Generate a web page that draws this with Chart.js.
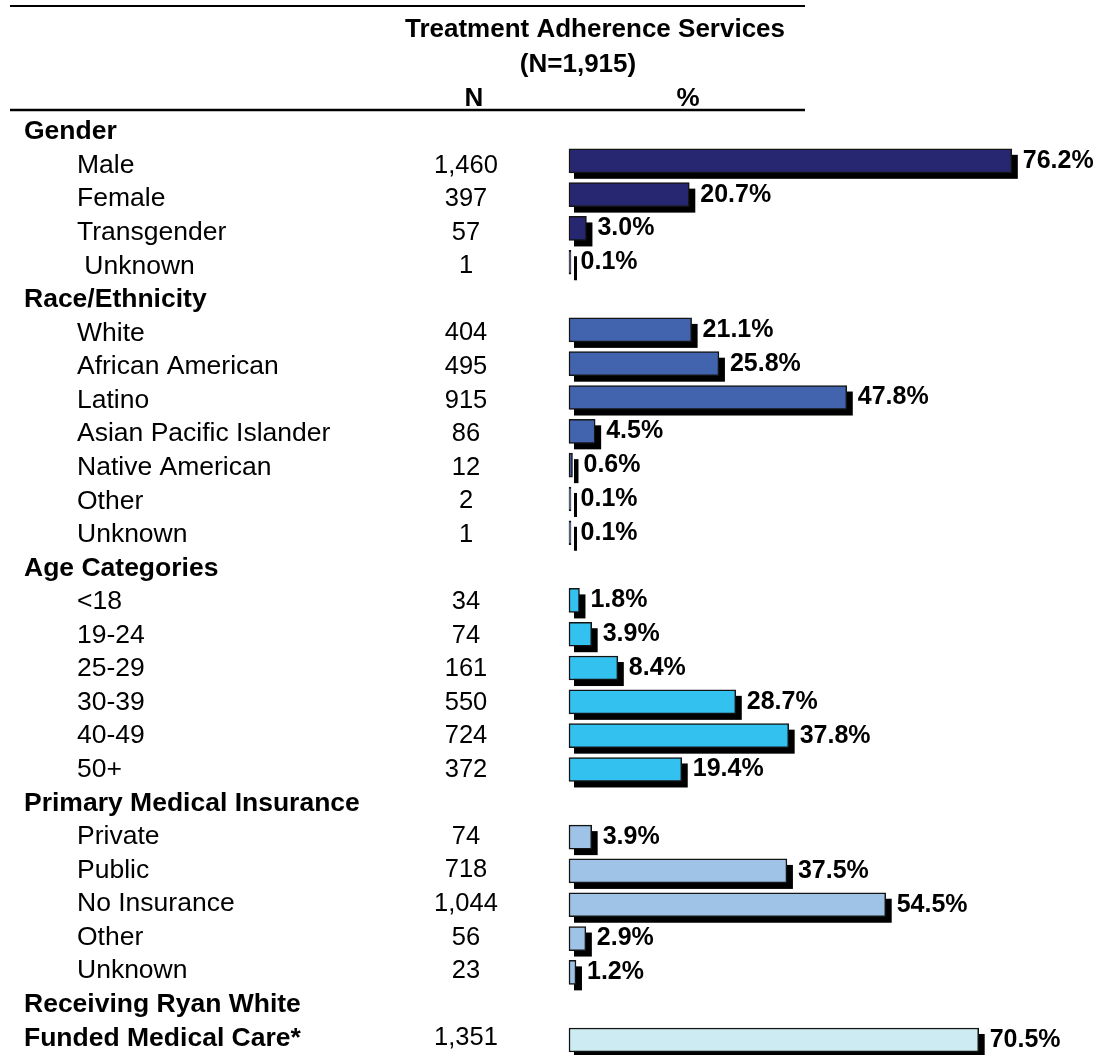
<!DOCTYPE html>
<html>
<head>
<meta charset="utf-8">
<script src="https://cdn.jsdelivr.net/npm/chart.js@4"></script>
<style>
  html, body { margin: 0; padding: 0; background: #fff; }
  #wrap { width: 1097px; height: 1055px; position: relative; }
</style>
</head>
<body>
<div id="wrap"><canvas id="chart"></canvas></div>
<script>
// rows of the table, top to bottom (group headings have no value)
var rowLabels = ['Gender', 'Male', 'Female', 'Transgender', ' Unknown',
    'Race/Ethnicity', 'White', 'African American', 'Latino', 'Asian Pacific Islander', 'Native American', 'Other', 'Unknown',
    'Age Categories', '<18', '19-24', '25-29', '30-39', '40-49', '50+',
    'Primary Medical Insurance', 'Private', 'Public', 'No Insurance', 'Other', 'Unknown',
    'Receiving Ryan White', 'Funded Medical Care*'];
var rowIsHeading = [true, false, false, false, false,
    true, false, false, false, false, false, false, false,
    true, false, false, false, false, false, false,
    true, false, false, false, false, false,
    true, true];
var rowGroup = [0, 0, 0, 0, 0,
    1, 1, 1, 1, 1, 1, 1, 1,
    2, 2, 2, 2, 2, 2, 2,
    3, 3, 3, 3, 3, 3,
    4, 4];
var counts = [null, '1,460', '397', '57', '1',
    null, '404', '495', '915', '86', '12', '2', '1',
    null, '34', '74', '161', '550', '724', '372',
    null, '74', '718', '1,044', '56', '23',
    null, '1,351'];
var percents = [null, 76.2, 20.7, 3.0, 0.1,
    null, 21.1, 25.8, 47.8, 4.5, 0.6, 0.1, 0.1,
    null, 1.8, 3.9, 8.4, 28.7, 37.8, 19.4,
    null, 3.9, 37.5, 54.5, 2.9, 1.2,
    null, 70.5];

var title = 'Treatment Adherence Services';
var subtitle = '(N=1,915)';

var groupColors = ['#262770', '#4264AE', '#33C1EF', '#9EC3E7', '#CDEBF2'];
var FONT = "'Liberation Sans', Arial, sans-serif";

// black drop shadow behind every bar (bar element clips its own canvas shadow)...
var shadowPlugin = {
    id: 'shadow',
    beforeDatasetsDraw: function (chart) {
        var ctx = chart.ctx;
        var meta = chart.getDatasetMeta(0);
        ctx.save();
        ctx.fillStyle = '#000';
        meta.data.forEach(function (bar, i) {
            if (percents[i] === null) {
                return;
            }
            var p = bar.getProps(['x', 'y', 'base', 'height'], true);
            ctx.fillRect(p.base + 5, p.y - p.height / 2 + 6, p.x - p.base + 1, p.height);
        });
        ctx.restore();
    }
};

// table text: headings, row labels, N column, % labels
var tablePlugin = {
    id: 'table',
    afterDraw: function (chart) {
        var ctx = chart.ctx;
        var y = chart.scales.y;
        var x = chart.scales.x;
        var meta = chart.getDatasetMeta(0);

        ctx.save();
        ctx.fillStyle = '#000';
        ctx.strokeStyle = '#000';

        // rules
        ctx.lineWidth = 2;
        ctx.beginPath();
        ctx.moveTo(10, 6);
        ctx.lineTo(805, 6);
        ctx.stroke();
        ctx.lineWidth = 2.5;
        ctx.beginPath();
        ctx.moveTo(10, 110);
        ctx.lineTo(805, 110);
        ctx.stroke();

        ctx.textBaseline = 'middle';
        ctx.textAlign = 'center';
        ctx.font = 'bold 26px ' + FONT;
        ctx.fillText(title, 595, 30);
        ctx.fillText(subtitle, 578, 65);
        ctx.fillText('N', 474, 99);
        ctx.fillText('%', 688, 99);

        for (var i = 0; i < rowLabels.length; i++) {
            var py = y.getPixelForValue(i) + 5 - 0.25 * i;

            ctx.textAlign = 'left';
            if (rowIsHeading[i]) {
                ctx.font = 'bold 26.5px ' + FONT;
                ctx.fillText(rowLabels[i], 24, py);
            } else {
                ctx.font = '26.5px ' + FONT;
                ctx.fillText(rowLabels[i], 77, py);
            }

            if (counts[i] !== null) {
                ctx.font = '25.5px ' + FONT;
                ctx.textAlign = 'center';
                ctx.fillText(counts[i], 466, py);
            }

            if (percents[i] !== null) {
                var bar = meta.data[i];
                ctx.font = 'bold 25px ' + FONT;
                ctx.textAlign = 'left';
                ctx.fillText(percents[i].toFixed(1) + '%', x.getPixelForValue(percents[i]) + 11, bar.y);
            }
        }

        ctx.restore();
    }
};

var chart = new Chart(document.getElementById('chart').getContext('2d'), {
    type: 'bar',
    data: {
        labels: rowLabels,
        datasets: [{
            data: percents,
            backgroundColor: rowGroup.map(function (g) { return groupColors[g]; }),
            borderColor: '#141414',
            borderWidth: 1.5,
            borderSkipped: false,
            barThickness: 24,
            minBarLength: 2,
            clip: false
        }]
    },
    options: {
        indexAxis: 'y',
        responsive: true,
        maintainAspectRatio: false,
        animation: false,
        layout: {
            padding: {left: 569, right: 5, top: 127, bottom: 15}
        },
        plugins: {
            legend: {display: false},
            tooltip: {enabled: false}
        },
        scales: {
            x: {
                min: 0,
                max: 90,
                display: false,
                grid: {display: false}
            },
            y: {
                offset: false,
                display: false,
                grid: {display: false}
            }
        }
    },
    plugins: [shadowPlugin, tablePlugin]
});
</script>
</body>
</html>
